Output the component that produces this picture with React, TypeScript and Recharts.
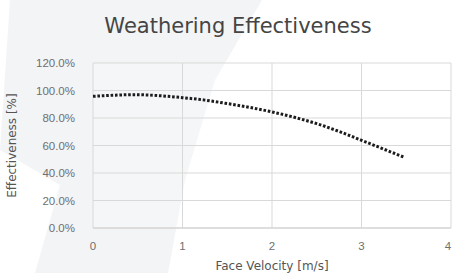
import { CartesianGrid, Label, Line, LineChart, XAxis, YAxis } from "recharts";

const velocity = [0, 0.25, 0.45, 0.75, 1, 1.25, 1.5, 1.75, 2, 2.25, 2.5, 2.75, 3, 3.25, 3.47];
const effectiveness = [0.958, 0.966, 0.97, 0.962, 0.948, 0.93, 0.905, 0.877, 0.844, 0.805, 0.759, 0.702, 0.638, 0.573, 0.516];
const xTicks = [0, 1, 2, 3, 4];
const yTicks = [0, 0.2, 0.4, 0.6, 0.8, 1.0, 1.2];

const data = velocity.map((v, i) => ({ v, e: effectiveness[i] }));

const tickStyle = { fontFamily: "Liberation Sans", fontSize: 11.5, fill: "#6f6f6f" };
const labelFont = "DejaVu Sans";

// last x tick sits on the right edge, pull it in a little so it stays visible
function XTick({ x, y, payload }: { x?: number; y?: number; payload?: { value: number } }) {
  const v = payload?.value ?? 0;
  return (
    <text
      x={(x ?? 0) - (v === 4 ? 3 : 0)}
      y={(y ?? 0) + 6}
      textAnchor="middle"
      dominantBaseline="hanging"
      {...tickStyle}
    >
      {v}
    </text>
  );
}

export default function App() {
  return (
    <div
      style={{
        position: "absolute",
        left: 0,
        top: 0,
        width: 452,
        height: 273,
        background: "#fff",
        overflow: "hidden",
      }}
    >
      {/* faint watermark band behind the chart */}
      <svg width={452} height={273} style={{ position: "absolute", left: 0, top: 0 }}>
        <polygon
          points="10,0 262,0 215,80 185,180 168,273 35,273 60,185 0,150"
          fill="#f3f4f6"
        />
      </svg>
      <div
        style={{
          position: "absolute",
          left: 0,
          top: 14,
          width: 476,
          textAlign: "center",
          fontFamily: labelFont,
          fontSize: 21,
          color: "#454545",
        }}
      >
        Weathering Effectiveness
      </div>
      <div style={{ position: "absolute", left: 0, top: 0 }}>
        <LineChart
          width={452}
          height={273}
          data={data}
          margin={{ top: 63, right: 1, left: 0, bottom: 0 }}
        >
          <CartesianGrid stroke="#d9d9d9" strokeWidth={1} fill="rgba(255,255,255,0.2)" />
          <XAxis
            dataKey="v"
            type="number"
            domain={[0, 4]}
            ticks={xTicks}
            tickLine={false}
            axisLine={{ stroke: "#d0d0d0" }}
            tick={<XTick />}
            height={45}
            interval={0}
          >
            <Label
              value="Face Velocity [m/s]"
              position="insideBottom"
              offset={3}
              style={{ fontFamily: labelFont, fontSize: 12, fill: "#555" }}
            />
          </XAxis>
          <YAxis
            type="number"
            domain={[0, 1.2]}
            ticks={yTicks}
            tickLine={false}
            axisLine={false}
            tick={tickStyle}
            tickMargin={12}
            width={93}
            tickFormatter={(t: number) => `${(t * 100).toFixed(1)}%`}
          >
            <Label
              value="Effectiveness [%]"
              angle={-90}
              position="insideLeft"
              offset={12}
              style={{ fontFamily: labelFont, fontSize: 12, fill: "#555", textAnchor: "middle" }}
            />
          </YAxis>
          <Line
            type="monotone"
            dataKey="e"
            stroke="#1c1c1c"
            strokeWidth={3}
            strokeDasharray="2.6 1.8"
            dot={false}
            isAnimationActive={false}
          />
        </LineChart>
      </div>
    </div>
  );
}
